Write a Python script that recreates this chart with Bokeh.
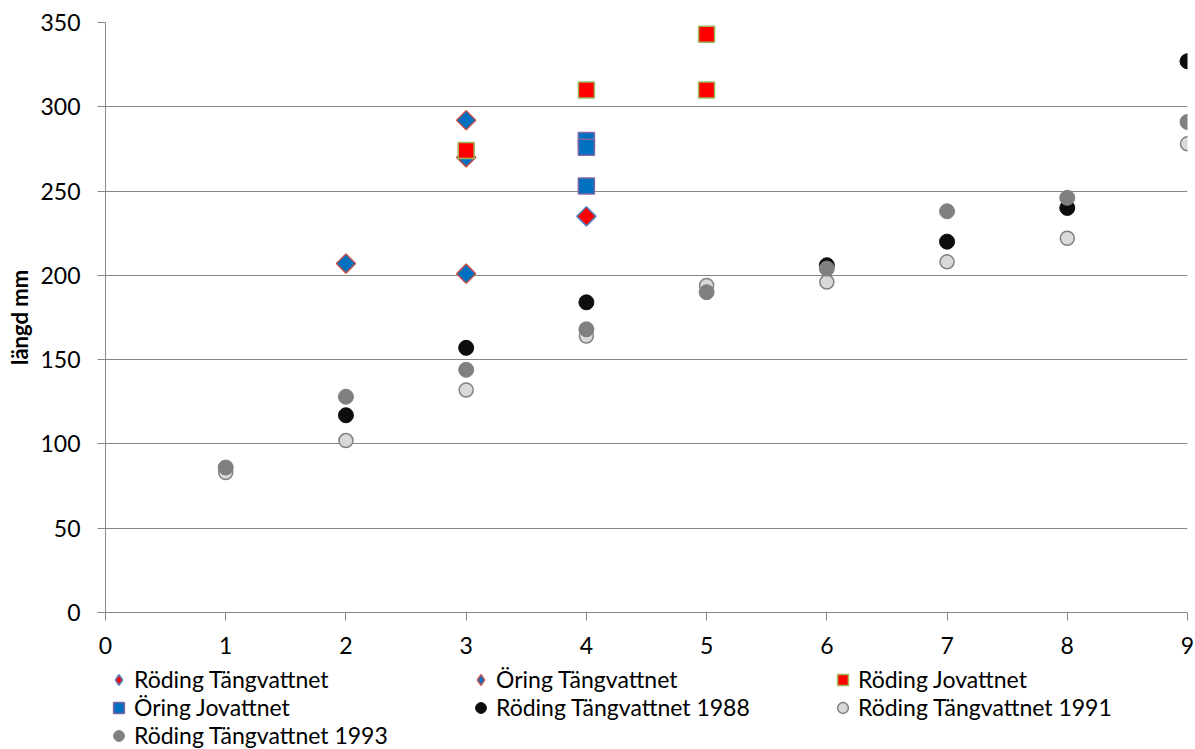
import numpy as np
from bokeh.plotting import figure
from bokeh.layouts import column
from bokeh.models import Range1d, FixedTicker, Legend, LegendItem
from bokeh.embed import file_html
from bokeh.resources import INLINE

# ---- data ----
rt_x = [4]
rt_y = [235]
ot_x = [2, 3, 3, 3]
ot_y = [207, 292, 270, 201]
rj_x = [3, 4, 5, 5]
rj_y = [274, 310, 343, 310]
oj_x = [4, 4, 4]
oj_y = [280, 276, 253]
t88_x = [2, 3, 4, 6, 7, 8, 9]
t88_y = [117, 157, 184, 206, 220, 240, 327]
t91_x = [1, 2, 3, 4, 5, 6, 7, 8, 9]
t91_y = [83, 102, 132, 164, 194, 196, 208, 222, 278]
t93_x = [1, 2, 3, 4, 5, 6, 7, 8, 9]
t93_y = [86, 128, 144, 168, 190, 204, 238, 246, 291]

x_ticks = [0, 1, 2, 3, 4, 5, 6, 7, 8, 9]
y_ticks = [0, 50, 100, 150, 200, 250, 300, 350]

labels = ["Röding Tängvattnet", "Öring Tängvattnet", "Röding Jovattnet",
          "Öring Jovattnet", "Röding Tängvattnet 1988", "Röding Tängvattnet 1991",
          "Röding Tängvattnet 1993"]

FONT = "Lato"
FS = "23px"
GRID = "#868686"

styles = [
    dict(marker="square", angle=np.pi / 4, size=13.5, fill_color="#FF0000", line_color="#4F81BD", line_width=1.5),
    dict(marker="square", angle=np.pi / 4, size=13.5, fill_color="#0070C0", line_color="#C0504D", line_width=1.5),
    dict(marker="square", size=16, fill_color="#FF0000", line_color="#9BBB59", line_width=1.5),
    dict(marker="square", size=16, fill_color="#0070C0", line_color="#8064A2", line_width=1.5),
    dict(marker="circle", size=15, fill_color="#0D0D0D", line_color="#0D0D0D", line_width=1),
    dict(marker="circle", size=14, fill_color="#D9D9D9", line_color="#808080", line_width=1.5),
    dict(marker="circle", size=15, fill_color="#808080", line_color="#808080", line_width=1),
]
series = [(rt_x, rt_y), (ot_x, ot_y), (rj_x, rj_y), (oj_x, oj_y),
          (t88_x, t88_y), (t91_x, t91_y), (t93_x, t93_y)]

p = figure(width=1195, height=664, x_range=Range1d(0, 9), y_range=Range1d(0, 350),
           output_backend="svg", toolbar_location=None,
           min_border_left=105, min_border_right=8, min_border_top=22, min_border_bottom=52)
p.outline_line_color = None
p.xgrid.visible = False
p.ygrid.grid_line_color = GRID
p.ygrid.grid_line_width = 1

p.xaxis.ticker = FixedTicker(ticks=x_ticks)
p.yaxis.ticker = FixedTicker(ticks=y_ticks)
for ax in (p.xaxis[0], p.yaxis[0]):
    ax.axis_line_color = GRID
    ax.major_tick_line_color = GRID
    ax.major_tick_out = 8
    ax.major_tick_in = 0
    ax.minor_tick_line_color = None
    ax.major_label_text_font = FONT
    ax.major_label_text_font_size = FS
    ax.major_label_text_color = "#000000"
p.xaxis.major_label_standoff = 16
p.yaxis.major_label_standoff = 17
p.yaxis.axis_label = "längd mm"
p.yaxis.axis_label_text_font = FONT
p.yaxis.axis_label_text_font_style = "bold"
p.yaxis.axis_label_text_font_size = "22px"
p.yaxis.axis_label_text_color = "#000000"
p.yaxis.axis_label_standoff = 4

for (xs, ys), st in zip(series, styles):
    p.scatter(xs, ys, **st)

# legend strip below the chart (its own renderers lie outside its view range)
lg = figure(width=1195, height=85, x_range=Range1d(-10, -9), y_range=Range1d(-10, -9),
            output_backend="svg", toolbar_location=None, min_border=0)
lg.axis.visible = False
lg.grid.visible = False
lg.outline_line_color = None

items = []
for lab, st, (xs, ys) in zip(labels, styles, series):
    st2 = dict(st)
    if "angle" in st2:
        st2.pop("angle")
        st2["marker"] = "diamond"
        st2["size"] = 17
    r = lg.scatter(xs, ys, **st2)
    items.append(LegendItem(label=lab, renderers=[r]))

legend = Legend(items=items, location=(0, 0), orientation="horizontal", ncols=3,
                glyph_width=27, glyph_height=27, label_height=27, label_width=333,
                label_standoff=2, spacing=0, padding=0, margin=0,
                border_line_color=None, background_fill_alpha=0,
                label_text_font=FONT, label_text_font_size=FS,
                label_text_color="#000000")
lg.add_layout(legend, "center")

layout = column(p, lg, spacing=0)
open("out.html", "w").write(file_html(layout, INLINE))
